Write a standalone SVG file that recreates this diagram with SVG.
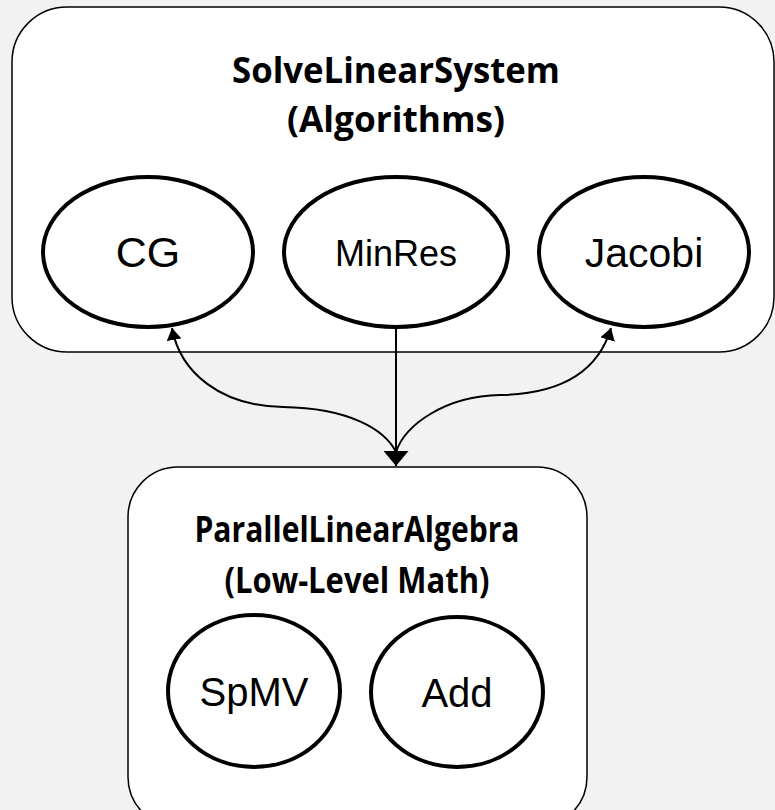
<svg xmlns="http://www.w3.org/2000/svg" width="775" height="810" viewBox="0 0 775 810">
  <style>
    .box { fill: #ffffff; stroke: #000000; stroke-width: 1.5; }
    .node { fill: #ffffff; stroke: #000000; stroke-width: 4; }
    .title { font-family: "Open Sans", "Liberation Sans", sans-serif; font-weight: bold; font-size: 35px; fill: #000000; text-anchor: middle; }
    .label { font-family: "Liberation Sans", Arial, sans-serif; fill: #000000; text-anchor: middle; }
    .edge { fill: none; stroke: #000000; stroke-width: 2; }
  </style>
  <defs>
    <marker id="arrowSmall" markerUnits="userSpaceOnUse" viewBox="0 0 10 10" preserveAspectRatio="none" refX="10" refY="5" markerWidth="12" markerHeight="15" orient="auto">
      <path d="M0,0 L10,5 L0,10 z" fill="#000000"/>
    </marker>
    <marker id="arrowBig" markerUnits="userSpaceOnUse" viewBox="0 0 10 10" preserveAspectRatio="none" refX="10" refY="5" markerWidth="15" markerHeight="25" orient="auto">
      <path d="M0,0 L10,5 L0,10 z" fill="#000000"/>
    </marker>
  </defs>
  <rect x="0" y="0" width="775" height="810" fill="#f2f2f2"/>

  <g id="SolveLinearSystem">
    <rect class="box" x="12" y="7" width="762" height="345" rx="55" ry="55"/>
    <text class="title" x="396" y="83" textLength="328" lengthAdjust="spacingAndGlyphs">SolveLinearSystem</text>
    <text class="title" x="396" y="132" textLength="218" lengthAdjust="spacingAndGlyphs">(Algorithms)</text>
  </g>

  <g id="ParallelLinearAlgebra">
    <rect class="box" x="128" y="467" width="459" height="360" rx="50" ry="50"/>
    <text class="title" x="357" y="542" textLength="325" lengthAdjust="spacingAndGlyphs">ParallelLinearAlgebra</text>
    <text class="title" x="357" y="593" textLength="265" lengthAdjust="spacingAndGlyphs">(Low-Level Math)</text>
  </g>

  <g id="CG">
    <ellipse class="node" cx="148" cy="252" rx="105" ry="75"/>
    <text class="label" x="148" y="267" font-size="43">CG</text>
  </g>
  <g id="MinRes">
    <ellipse class="node" cx="396" cy="252" rx="112" ry="75"/>
    <text class="label" x="396" y="266" font-size="36">MinRes</text>
  </g>
  <g id="Jacobi">
    <ellipse class="node" cx="644" cy="252" rx="105" ry="75"/>
    <text class="label" x="644" y="267" font-size="41">Jacobi</text>
  </g>
  <g id="SpMV">
    <ellipse class="node" cx="254" cy="691" rx="86" ry="76"/>
    <text class="label" x="254" y="706" font-size="40">SpMV</text>
  </g>
  <g id="Add">
    <ellipse class="node" cx="457" cy="692" rx="86" ry="75"/>
    <text class="label" x="457" y="707" font-size="40">Add</text>
  </g>

  <g id="connectors">
    <path class="edge" d="M396,328 L396,466" marker-end="url(#arrowBig)"/>
    <path class="edge" d="M396,452 C385,430 350,408 283,407 C220,406 180,372 172,328" marker-end="url(#arrowSmall)"/>
    <path class="edge" d="M396,452 C405,425 445,396 500,395 C560,394 598,372 611,328" marker-end="url(#arrowSmall)"/>
  </g>
</svg>
